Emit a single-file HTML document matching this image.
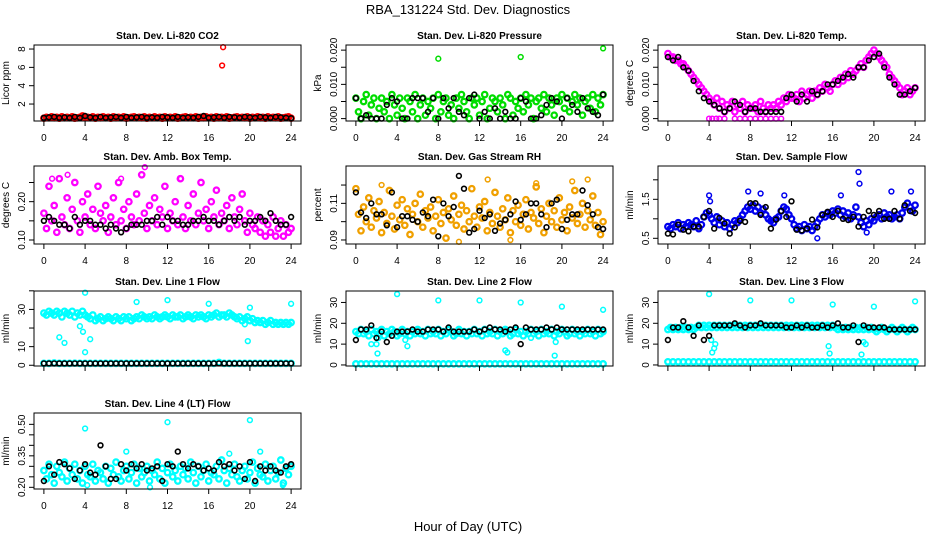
<!DOCTYPE html>
<html><head><meta charset="utf-8"><style>
html,body{margin:0;padding:0;background:#fff}
svg{display:block;font-family:"Liberation Sans",sans-serif}
</style></head><body>
<svg id="c" width="936" height="540" viewBox="0 0 936 540">
<text x="468" y="14" text-anchor="middle" font-size="13">RBA_131224  Std. Dev. Diagnostics</text>
<text x="468" y="531" text-anchor="middle" font-size="13">Hour of Day (UTC)</text>
</svg>
<script>
// ---- data ----
const xTickVals = [0,4,8,12,16,20,24];
const xTickLabels = ["0","4","8","12","16","20","24"];

const co2Color = [0.45,0.55,0.5,0.6,0.5,0.55,0.45,0.6,0.5,0.55,0.5,0.6,0.45,0.5,0.55,0.7,0.5,0.55,0.5,0.6,0.45,0.55,0.5,0.6,0.5,0.55,0.45,0.6,0.5,0.55,0.5,0.6,0.45,0.5,0.55,0.6,0.5,0.55,0.5,0.6,0.45,0.55,0.5,0.6,0.5,0.55,0.45,0.6,0.5,0.55,0.5,0.6,0.45,0.5,0.55,0.6,0.5,0.55,0.5,0.6,0.45,0.55,0.5,0.6,0.5,0.55,0.45,0.6,0.5,0.55,0.5,0.6,0.45,0.5,0.55,0.6,0.5,0.55,0.5,0.6,0.45,0.55,0.5,0.6,0.5,0.55,0.45,0.6,0.5,0.55,0.5,0.6,0.45,0.5,0.55,0.6,0.45];
const co2Black = [0.5,0.55,0.6,0.5,0.55,0.5,0.6,0.5,0.7,0.55,0.5,0.6,0.5,0.55,0.6,0.5,0.6,0.5,0.55,0.6,0.5,0.55,0.5,0.6,0.55,0.5,0.6,0.5,0.55,0.5,0.6,0.7,0.5,0.55,0.6,0.5,0.6,0.55,0.5,0.6,0.55,0.5,0.6,0.55,0.5,0.6,0.55,0.5,0.45];
const co2OutX = [17.3,17.4];
const co2OutY = [6.2,8.2];

const presColor = [0.006,0.002,0,0.005,0.007,0.001,0.004,0.006,0,0.003,0.006,0.002,0.005,0,0.007,0.004,0.001,0.006,0.003,0,0.006,0.005,0.002,0.007,0,0.004,0.006,0.001,0.005,0.003,0.006,0,0.007,0.002,0.005,0.006,0.001,0.004,0,0.006,0.003,0.007,0.005,0.002,0,0.006,0.004,0.006,0.001,0.005,0.007,0,0.003,0.006,0.005,0.002,0.006,0.004,0,0.007,0.006,0.001,0.005,0.003,0.006,0.002,0.007,0.004,0.006,0,0.005,0.006,0.003,0.007,0.002,0.006,0.004,0.001,0.006,0.005,0.007,0.003,0.006,0.002,0.005,0.007,0.004,0.006,0.001,0.005,0.006,0.003,0.007,0.002,0.006,0.004,0.007];
const presBlack = [0.006,0,0.001,0,0,0,0.004,0.006,0.005,0,0,0.006,0.006,0.006,0.002,0.006,0,0.006,0.003,0.006,0.002,0.001,0.006,0.007,0,0.002,0,0.003,0,0.002,0,0,0.006,0.005,0,0,0.001,0.004,0.006,0.005,0,0.006,0.004,0.002,0.006,0.003,0.002,0.001,0.007];
const presOutX = [8,16,24];
const presOutY = [0.0175,0.018,0.0205];

const tempColor = [0.019,0.018,0.018,0.017,0.017,0.016,0.016,0.015,0.014,0.013,0.012,0.011,0.010,0.009,0.008,0.007,0.006,0.005,0.004,0.006,0.003,0.005,0.002,0.004,0.003,0.005,0.002,0.004,0.003,0.005,0.002,0.004,0.003,0.003,0.004,0.002,0.005,0.003,0.002,0.004,0.003,0.004,0.003,0.005,0.004,0.006,0.005,0.007,0.006,0.006,0.007,0.005,0.008,0.006,0.007,0.008,0.006,0.008,0.007,0.009,0.008,0.010,0.009,0.008,0.010,0.011,0.010,0.012,0.011,0.013,0.012,0.014,0.013,0.014,0.015,0.016,0.015,0.017,0.018,0.019,0.020,0.019,0.018,0.017,0.016,0.015,0.013,0.012,0.011,0.010,0.009,0.007,0.008,0.009,0.007,0.008,0.009];
const tempBlack = [0.018,0.017,0.018,0.015,0.014,0.011,0.008,0.006,0.005,0.004,0.003,0.002,0.003,0.005,0.004,0.002,0.003,0.003,0.002,0.002,0.002,0.002,0.002,0.006,0.007,0.005,0.007,0.005,0.008,0.007,0.008,0.010,0.010,0.011,0.012,0.013,0.012,0.015,0.015,0.017,0.018,0.019,0.015,0.012,0.010,0.007,0.007,0.008,0.009];
const tempOutX = [4,4.3,4.7,5,5.5,6.5,7,7.5,8,8.5,9,9.5,10,10.5,11];
const tempOutY = [0,0,0,0,0,0,0,0,0,0,0,0,0,0,0];

const ambColor = [0.17,0.13,0.24,0.15,0.19,0.12,0.26,0.16,0.14,0.21,0.13,0.18,0.25,0.15,0.12,0.2,0.16,0.22,0.14,0.18,0.13,0.24,0.17,0.15,0.19,0.12,0.16,0.21,0.14,0.25,0.15,0.18,0.13,0.2,0.16,0.14,0.22,0.15,0.27,0.17,0.13,0.19,0.15,0.21,0.14,0.18,0.16,0.24,0.13,0.17,0.15,0.2,0.14,0.26,0.16,0.13,0.19,0.15,0.22,0.14,0.17,0.25,0.15,0.18,0.13,0.2,0.16,0.23,0.14,0.17,0.15,0.19,0.13,0.21,0.16,0.14,0.18,0.22,0.15,0.12,0.17,0.14,0.13,0.16,0.12,0.15,0.11,0.14,0.12,0.16,0.11,0.13,0.15,0.11,0.14,0.12,0.13];
const ambBlack = [0.15,0.16,0.15,0.14,0.14,0.13,0.16,0.14,0.15,0.15,0.14,0.14,0.13,0.14,0.13,0.12,0.13,0.14,0.14,0.14,0.15,0.15,0.16,0.14,0.16,0.15,0.15,0.14,0.14,0.15,0.15,0.16,0.15,0.15,0.14,0.15,0.16,0.15,0.16,0.14,0.15,0.15,0.16,0.15,0.17,0.15,0.14,0.14,0.16];
const ambOutX = [9.8,0.8,2.3,7.5,13.3];
const ambOutY = [0.29,0.26,0.27,0.26,0.26];

const rhColor = [0.118,0.104,0.095,0.108,0.1,0.113,0.097,0.106,0.102,0.111,0.094,0.105,0.099,0.117,0.103,0.096,0.109,0.101,0.112,0.098,0.107,0.093,0.104,0.11,0.1,0.115,0.097,0.106,0.102,0.108,0.095,0.103,0.112,0.099,0.105,0.091,0.107,0.101,0.114,0.098,0.104,0.109,0.096,0.106,0.1,0.118,0.103,0.097,0.108,0.102,0.111,0.095,0.105,0.099,0.116,0.103,0.097,0.107,0.101,0.113,0.094,0.106,0.1,0.109,0.098,0.104,0.112,0.096,0.105,0.102,0.119,0.099,0.107,0.094,0.103,0.11,0.1,0.106,0.097,0.113,0.101,0.105,0.095,0.108,0.102,0.117,0.099,0.104,0.11,0.097,0.106,0.101,0.114,0.098,0.105,0.093,0.1];
const rhBlack = [0.116,0.105,0.102,0.110,0.104,0.104,0.098,0.116,0.097,0.103,0.103,0.101,0.100,0.105,0.103,0.112,0.092,0.110,0.103,0.108,0.125,0.118,0.094,0.096,0.106,0.102,0.104,0.095,0.099,0.101,0.104,0.111,0.101,0.104,0.110,0.110,0.104,0.097,0.110,0.112,0.096,0.101,0.104,0.104,0.117,0.109,0.104,0.097,0.096];
const rhOutX = [10,2.5,12.8,17.5,21,22.5,15];
const rhOutY = [0.089,0.12,0.123,0.121,0.122,0.123,0.09];

const flowColor = [0.8,0.75,0.85,0.8,0.9,0.75,0.85,0.8,0.9,0.85,0.8,0.95,0.75,0.85,1.05,1.15,1.1,1.0,0.9,1.05,0.85,0.95,0.8,0.9,0.75,0.85,0.95,0.9,1.0,1.1,1.2,1.3,1.25,1.35,1.2,1.3,1.15,1.25,1.1,1.0,0.95,0.9,1.0,1.05,1.2,1.3,1.25,1.1,1.0,0.85,0.75,0.8,0.7,0.85,0.75,0.8,0.7,0.8,0.9,1.0,1.1,1.05,1.15,1.1,1.2,1.15,1.25,1.1,1.2,1.05,1.15,1.0,1.1,1.3,1.05,0.9,0.8,0.95,0.85,1.0,0.95,1.05,1.1,1.0,1.15,1.05,1.1,1.0,1.05,1.1,1.0,1.15,1.3,1.4,1.3,1.2,1.35];
const flowBlack = [0.62,0.6,0.85,0.72,0.68,0.8,0.8,1.05,1.2,0.75,1.02,0.88,0.62,0.78,0.95,0.92,1.4,1.4,1.1,1.3,0.75,0.98,1.2,1.05,1.45,0.72,0.7,0.75,0.98,0.78,1.1,1.18,1.05,1.2,1.0,0.97,1.05,0.8,1.05,1.2,1.1,1.2,1.0,1.0,1.2,1.0,1.35,1.2,1.15];
const flowOutX = [18.5,18.6,4,7.8,9,11.3,14.5,16.8,21.7,23.6,19.3,4.1];
const flowOutY = [2.2,1.9,1.6,1.7,1.65,1.6,0.5,1.6,1.7,1.7,0.65,1.45];

const l1Color = [28,27,29,28,27,29,28,26,29,28,27,29,26,28,27,29,27,26,25,27,24,25,26,24,25,26,25,24,26,25,24,26,25,26,24,25,26,25,27,26,25,26,25,27,26,25,26,27,26,25,27,26,26,27,25,26,27,26,25,27,26,27,26,25,27,26,27,28,26,27,27,26,28,27,26,25,26,24,25,26,24,25,23,24,23,24,22,23,24,22,23,22,23,22,23,22,23];
const l1Base = [1,1,1.2,1,1,1,1.1,1,1,1,1,1,1,1,1,1,1,1,1,1,1,1,1,1,1,1,1,1,1,1,1,1,1,1,1.5,1,1,1,1,1,1,1,1,1,1,1,1,1,1];
const l1Black = [1,1,1,1,1,1,1,1,1,1,1,1,1,1,1,1,1,1,1,1,1,1,1,1,1,1,1,1,1,1,1,1,1,1,1,1,1,1,1,1,1,1,1,1,1,1,1,1,1];
const l1OutX = [4,9,12,16,20,24,1.5,2,3.5,4,4.5,3.8,19.5,19.8];
const l1OutY = [39,34,35,33,31,33,15,12,21,7,14,18,22,13];

const l2Color = [16,15,17,15,16,14,17,15,16,15,17,14,16,15,17,16,14,15,17,15,16,14,16,15,17,15,16,14,17,15,16,15,17,14,16,15,17,16,14,15,17,15,16,14,16,15,17,15,16,14,17,15,16,15,17,14,16,15,17,16,14,15,17,15,16,14,16,15,17,15,16,14,17,15,16,15,17,14,16,15,17,16,14,15,17,15,16,14,16,15,17,15,16,14,17,15,16];
const l2Base = [0.5,0.5,0.5,0.5,0.5,0.5,0.5,0.5,0.5,0.5,0.5,0.5,0.5,0.5,0.5,0.5,0.5,0.5,0.5,0.5,0.5,0.5,0.5,0.5,0.5,0.5,0.5,0.5,0.5,0.5,0.5,0.5,0.5,0.5,0.5,0.5,0.5,0.5,0.5,0.5,0.5,0.5,0.5,0.5,0.5,0.5,0.5,0.5,0.5];
const l2Black = [12,17,17,19,13,16,11,14,16,16,16,17,16,16,17,17,17,16,18,16,16,16,16,17,16,17,18,17,17,16,17,18,10,18,17,17,17,18,17,18,17,17,17,17,17,17,17,17,17];
const l2OutX = [4,8,12,16,20,24,1.5,2,2.1,2.2,5,4.8,14.5,14.7,19.3,19.4,17];
const l2OutY = [34,31,31,30,28,26.5,10,10,5.5,13,9,12,7,6,4.5,11,13];

const l3Color = [17,18,17,18,17,18,17,18,17,18,17,18,19,18,19,18,19,18,19,18,19,18,19,18,19,18,19,18,19,18,19,18,19,18,19,18,19,18,19,18,19,18,19,18,19,18,19,18,19,18,19,18,19,18,19,18,19,18,19,18,19,18,19,18,19,18,17,18,17,18,17,18,17,18,17,18,17,18,17,18,17,16,17,18,17,16,17,18,17,16,17,18,17,16,17,18,17];
const l3Base = [1.5,1.5,1.5,1.5,1.5,1.5,1.5,1.5,1.5,1.5,1.5,1.5,1.5,1.5,1.5,1.5,1.5,1.5,1.5,1.5,1.5,1.5,1.5,1.5,1.5,1.5,1.5,1.5,1.5,1.5,1.5,1.5,1.5,1.5,1.5,1.5,1.5,1.5,1.5,1.5,1.5,1.5,1.5,1.5,1.5,1.5,1.5,1.5,1.5];
const l3Black = [12,18,18,21,18,14,19,12,14,19,19,19,19,20,19,18,19,19,20,19,19,19,19,18,18,19,18,19,18,18,19,18,19,20,18,18,19,11,19,18,18,18,18,17,17,17,17,17,17];
const l3OutX = [4,8,12,16,20,24,4.3,4.5,4.6,4.2,15.6,15.7,19,19.2,18.8];
const l3OutY = [34,31,31,29,28,30.5,6,8,10,12,9,5.5,11,10,5];

const l4Color = [0.28,0.24,0.31,0.26,0.22,0.3,0.27,0.25,0.32,0.23,0.29,0.26,0.31,0.24,0.28,0.22,0.3,0.26,0.25,0.31,0.23,0.28,0.27,0.24,0.3,0.22,0.29,0.26,0.32,0.25,0.23,0.28,0.3,0.24,0.27,0.31,0.22,0.29,0.25,0.27,0.3,0.23,0.28,0.26,0.32,0.24,0.29,0.22,0.27,0.31,0.25,0.28,0.23,0.3,0.26,0.29,0.24,0.32,0.27,0.22,0.3,0.25,0.28,0.31,0.23,0.27,0.26,0.3,0.24,0.33,0.28,0.22,0.29,0.26,0.31,0.25,0.23,0.28,0.3,0.24,0.27,0.32,0.22,0.29,0.26,0.25,0.31,0.23,0.28,0.3,0.24,0.27,0.33,0.22,0.29,0.26,0.3];
const l4Black = [0.23,0.3,0.26,0.32,0.31,0.29,0.24,0.28,0.31,0.27,0.26,0.4,0.3,0.24,0.24,0.31,0.28,0.31,0.29,0.31,0.28,0.29,0.3,0.23,0.31,0.3,0.37,0.31,0.29,0.31,0.3,0.28,0.29,0.28,0.32,0.3,0.31,0.28,0.3,0.24,0.32,0.23,0.3,0.28,0.3,0.28,0.27,0.3,0.31];
const l4OutX = [4,12,20,4.2,10.3,23.2,18,21,8];
const l4OutY = [0.48,0.51,0.52,0.21,0.2,0.21,0.36,0.37,0.37];

// ---- rendering ----
const NS = "http://www.w3.org/2000/svg";
const svg = document.getElementById('c');
function mk(tag, attrs, parent){const e=document.createElementNS(NS,tag);for(const k in attrs)e.setAttribute(k,attrs[k]);(parent||svg).appendChild(e);return e;}

const colsX=[[34,301],[346,613],[658,925]];
const rowsY=[[45,121],[166,244],[291,366],[413,489]];

const panels=[
 {name:'co2',title:'Stan. Dev. Li-820 CO2',ylab:'Licor ppm',c:0,r:0,ymin:0.15,ymax:8.44,yt:[2,4,6,8],ytl:['2','4','6','8'],col:'#ff0000',color:co2Color,black:co2Black,ox:co2OutX,oy:co2OutY,xl:true},
 {name:'pressure',title:'Stan. Dev. Li-820 Pressure',ylab:'kPa',c:1,r:0,ymin:-0.0007,ymax:0.0215,yt:[0,0.005,0.01,0.015,0.02],ytl:['0.000','','0.010','','0.020'],col:'#00dd00',color:presColor,black:presBlack,ox:presOutX,oy:presOutY,xl:true},
 {name:'li820-temp',title:'Stan. Dev. Li-820 Temp.',ylab:'degrees C',c:2,r:0,ymin:-0.0007,ymax:0.0215,yt:[0,0.005,0.01,0.015,0.02],ytl:['0.000','','0.010','','0.020'],col:'#ff00ff',color:tempColor,black:tempBlack,ox:tempOutX,oy:tempOutY,xl:true},
 {name:'amb-box-temp',title:'Stan. Dev. Amb. Box Temp.',ylab:'degrees C',c:0,r:1,ymin:0.0896,ymax:0.293,yt:[0.1,0.15,0.2,0.25],ytl:['0.10','','0.20',''],col:'#ff00ff',color:ambColor,black:ambBlack,ox:ambOutX,oy:ambOutY,xl:true},
 {name:'gas-rh',title:'Stan. Dev. Gas Stream RH',ylab:'percent',c:1,r:1,ymin:0.0878,ymax:0.1304,yt:[0.09,0.1,0.11,0.12],ytl:['0.09','','0.11',''],col:'#f0a000',color:rhColor,black:rhBlack,ox:rhOutX,oy:rhOutY,xl:true},
 {name:'sample-flow',title:'Stan. Dev. Sample Flow',ylab:'ml/min',c:2,r:1,ymin:0.354,ymax:2.354,yt:[0.5,1,1.5,2],ytl:['0.5','','1.5',''],col:'#0000ee',color:flowColor,black:flowBlack,ox:flowOutX,oy:flowOutY,xl:true},
 {name:'line1-flow',title:'Stan. Dev. Line 1 Flow',ylab:'ml/min',c:0,r:2,ymin:-0.4,ymax:39.9,yt:[0,10,20,30,40],ytl:['0','10','','30',''],col:'#00ffff',color:l1Color,base:l1Base,black:l1Black,ox:l1OutX,oy:l1OutY,xl:false},
 {name:'line2-flow',title:'Stan. Dev. Line 2 Flow',ylab:'ml/min',c:1,r:2,ymin:-0.5,ymax:35.5,yt:[0,10,20,30],ytl:['0','10','20','30'],col:'#00ffff',color:l2Color,base:l2Base,black:l2Black,ox:l2OutX,oy:l2OutY,xl:false},
 {name:'line3-flow',title:'Stan. Dev. Line 3 Flow',ylab:'ml/min',c:2,r:2,ymin:-0.5,ymax:35.5,yt:[0,10,20,30],ytl:['0','10','20','30'],col:'#00ffff',color:l3Color,base:l3Base,black:l3Black,ox:l3OutX,oy:l3OutY,xl:false},
 {name:'line4-flow',title:'Stan. Dev. Line 4 (LT) Flow',ylab:'ml/min',c:0,r:3,ymin:0.192,ymax:0.554,yt:[0.2,0.25,0.3,0.35,0.4,0.45,0.5],ytl:['0.20','','','0.35','','','0.50'],col:'#00ffff',color:l4Color,black:l4Black,ox:l4OutX,oy:l4OutY,xl:true}
];

panels.forEach(p=>{
  const [x0,x1]=colsX[p.c],[y0,y1]=rowsY[p.r];
  const g=mk('g',{});
  
  
  const xs=v=>x0+(v+0.96)/25.92*(x1-x0);
  const ys=v=>y1-(v-p.ymin)/(p.ymax-p.ymin)*(y1-y0);
  const cx=(x0+x1)/2;
  const t=mk('text',{x:cx,y:y0-6,'text-anchor':'middle','font-size':'10','font-weight':'bold'},g);
  t.textContent=p.title;
  
  
  const yl=mk('text',{x:0,y:0,'text-anchor':'middle','font-size':'10',transform:`translate(${x0-25},${(y0+y1)/2}) rotate(-90)`},g);
  yl.textContent=p.ylab;
  
  
  function series(arr,color,nm,sw,r){
    const sg=mk('g',{fill:'none',stroke:color,'stroke-width':sw},g);
    
    
    arr.forEach((v,i)=>{
      const h=i*24/(arr.length-1);
      const c=mk('circle',{cx:xs(h).toFixed(1),cy:ys(v).toFixed(1),r:r},sg);
      
      
    });
    return sg;
  }
  series(p.color,p.col,'colored-series','2.3','2.7');
  const og=mk('g',{fill:'none',stroke:p.col,'stroke-width':'1.5'},g);
  
  
  p.ox.forEach((h,i)=>{
    const c=mk('circle',{cx:xs(h).toFixed(1),cy:ys(p.oy[i]).toFixed(1),r:2.4},og);
    
    
  });
  if(p.base) series(p.base,p.col,'baseline-series','2.3','2.7');
  series(p.black,'#000','mean-series','1.6','2.4');
  const b=mk('rect',{x:x0,y:y0,width:x1-x0,height:y1-y0,fill:'none',stroke:'#000','stroke-width':'1'},g);
  
  
  mk('line',{x1:xs(xTickVals[0]),x2:xs(xTickVals[xTickVals.length-1]),y1:y1,y2:y1,stroke:'#000'},g);
  xTickVals.forEach((v,i)=>{
    mk('line',{x1:xs(v),x2:xs(v),y1:y1,y2:y1+5,stroke:'#000'},g);
    if(p.xl){
      const tl=mk('text',{x:xs(v),y:y1+20,'text-anchor':'middle','font-size':'10'},g);
      tl.textContent=xTickLabels[i];
      
      
    }
  });
  mk('line',{x1:x0,x2:x0,y1:ys(p.yt[0]),y2:ys(p.yt[p.yt.length-1]),stroke:'#000'},g);
  p.yt.forEach((v,i)=>{
    mk('line',{x1:x0-5,x2:x0,y1:ys(v),y2:ys(v),stroke:'#000'},g);
    if(p.ytl[i]){
      const tl=mk('text',{x:0,y:0,'text-anchor':'middle','font-size':'10',transform:`translate(${x0-9},${ys(v)}) rotate(-90)`},g);
      tl.textContent=p.ytl[i];
      
      
    }
  });
});
</script>
</body></html>
